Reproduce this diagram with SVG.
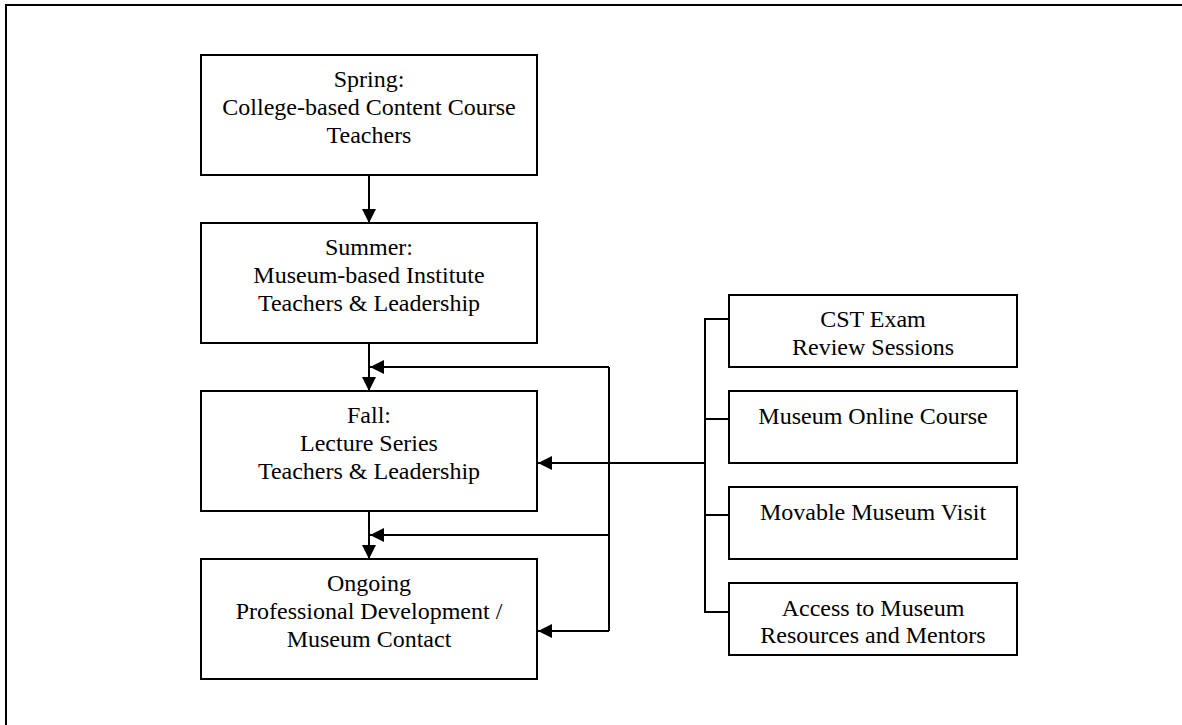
<svg xmlns="http://www.w3.org/2000/svg" width="1182" height="725" viewBox="0 0 1182 725">
<style>
.box{fill:#fff;stroke:#000;stroke-width:2}
.t{font-family:"Liberation Serif","Times New Roman",serif;font-size:24px;fill:#000;text-anchor:middle}
.ln{fill:none;stroke:#000;stroke-width:2}
</style>
<defs>
<marker id="ah" viewBox="0 0 14 14" refX="14" refY="7" markerWidth="14" markerHeight="14" markerUnits="userSpaceOnUse" orient="auto">
<path d="M0,0 L14,7 L0,14 Z" fill="#000"/>
</marker>
</defs>
<rect width="1182" height="725" fill="#fff"/>
<path d="M6,725 V5 H1182" class="ln"/>
<g id="spring"><rect class="box" x="201" y="55" width="336" height="120"/>
<text class="t" x="369" y="87">Spring:</text><text class="t" x="369" y="115">College-based Content Course</text><text class="t" x="369" y="143">Teachers</text></g>
<g id="summer"><rect class="box" x="201" y="223" width="336" height="120"/>
<text class="t" x="369" y="255">Summer:</text><text class="t" x="369" y="283">Museum-based Institute</text><text class="t" x="369" y="311">Teachers &amp; Leadership</text></g>
<g id="fall"><rect class="box" x="201" y="391" width="336" height="120"/>
<text class="t" x="369" y="423">Fall:</text><text class="t" x="369" y="451">Lecture Series</text><text class="t" x="369" y="479">Teachers &amp; Leadership</text></g>
<g id="ongoing"><rect class="box" x="201" y="559" width="336" height="120"/>
<text class="t" x="369" y="591">Ongoing</text><text class="t" x="369" y="619">Professional Development /</text><text class="t" x="369" y="647">Museum Contact</text></g>
<g id="cst"><rect class="box" x="729" y="295" width="288" height="72"/>
<text class="t" x="873" y="327">CST Exam</text><text class="t" x="873" y="355">Review Sessions</text></g>
<g id="online"><rect class="box" x="729" y="391" width="288" height="72"/>
<text class="t" x="873" y="424">Museum Online Course</text></g>
<g id="movable"><rect class="box" x="729" y="487" width="288" height="72"/>
<text class="t" x="873" y="520">Movable Museum Visit</text></g>
<g id="access"><rect class="box" x="729" y="583" width="288" height="72"/>
<text class="t" x="873" y="616">Access to Museum</text><text class="t" x="873" y="643">Resources and Mentors</text></g>
<g id="connectors">
<path class="ln" d="M369,175 V223" marker-end="url(#ah)"/>
<path class="ln" d="M369,343 V391" marker-end="url(#ah)"/>
<path class="ln" d="M369,511 V559" marker-end="url(#ah)"/>
<path class="ln" d="M729,319 H705 V612 H729 M705,419 H729 M705,515 H729"/>
<path class="ln" d="M705,463 H538" marker-end="url(#ah)"/>
<path class="ln" d="M609,367 V631"/>
<path class="ln" d="M609,367 H370" marker-end="url(#ah)"/>
<path class="ln" d="M609,535 H370" marker-end="url(#ah)"/>
<path class="ln" d="M609,631 H538" marker-end="url(#ah)"/>
</g>
</svg>
